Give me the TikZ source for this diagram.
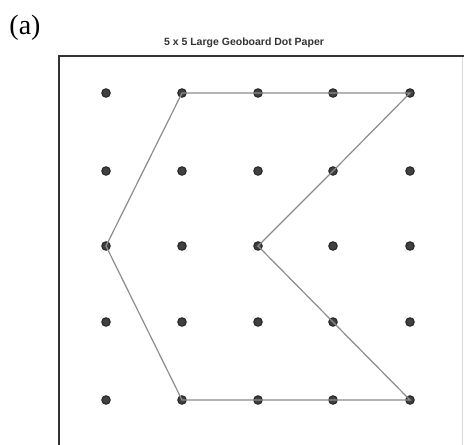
\documentclass[tikz,border=0pt]{standalone}
\usepackage{fontspec}
\setmainfont{Liberation Serif}
\setsansfont{Liberation Sans}
\begin{document}
\begin{tikzpicture}[x=1pt,y=-1pt,
  dot/.style={circle,fill=black!75,draw=black!85,line width=1pt,inner sep=0pt,minimum size=8.5pt},
  seg/.style={draw=black!45,line width=1.2pt,line cap=round},
  frame/.style={draw=black!80,line width=2pt}]
\useasboundingbox (0,0) rectangle (464,445);
\fill[white] (0,0) rectangle (464,445);
% frame
\coordinate (tl) at (59,56);
\coordinate (tr) at (464,56);
\coordinate (bl) at (59,445);
\draw[frame] (tr) -- (tl) -- (bl);
\draw[black!15,line width=1pt] (462,57) -- (462,445);
% labels
\node[font=\fontsize{28}{30}\selectfont,anchor=center] (lab) at (25,28) {(a)};
\node[font=\sffamily\bfseries\fontsize{10.5}{12}\selectfont,text=black!80] (title) at (244,43) {5 x 5 Large Geoboard Dot Paper};
% dots
\foreach \i/\x in {1/106,2/182,3/258,4/333,5/410}{
  \foreach \j/\y in {1/93,2/171,3/246,4/322,5/400}{
    \node[dot] (d\i\j) at (\x,\y) {};
  }
}
% shape
\draw[seg] (d21.center) -- (d13.center) -- (d25.center) -- (d35.center) -- (d45.center) -- (d55.center)
  -- (d44.center) -- (d33.center) -- (d42.center) -- (d51.center) -- (d41.center) -- (d31.center) -- (d21.center);
\end{tikzpicture}
\end{document}
